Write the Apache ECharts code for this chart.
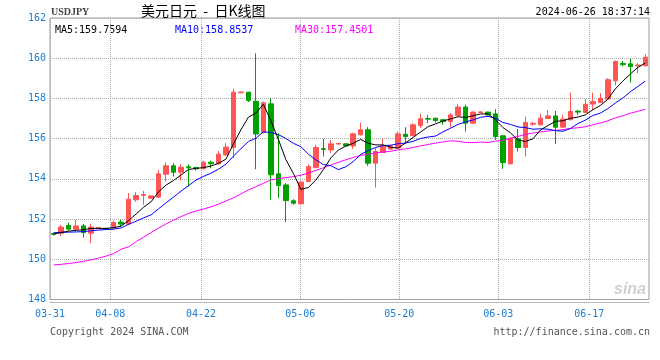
<!DOCTYPE html>
<html><head><meta charset="utf-8">
<script src="https://cdn.jsdelivr.net/npm/echarts@6/dist/echarts.min.js"></script>
<style>html,body{margin:0;padding:0;background:#fff}#c{width:660px;height:360px}</style>
</head><body><div id="c"></div>
<script>
const opens = [151.28,151.30,151.68,151.50,151.66,151.30,151.56,151.53,151.55,151.85,
151.75,152.96,153.18,153.04,153.09,154.23,154.65,154.33,154.60,154.56,
154.50,154.83,154.75,155.19,155.56,158.28,158.31,157.86,156.30,157.73,
154.25,153.70,152.91,152.76,153.87,154.56,155.50,155.44,155.73,155.74,
155.64,156.19,156.44,154.78,155.31,155.48,155.53,156.22,156.15,156.65,
157.00,157.02,156.94,156.85,157.15,157.57,156.77,157.30,157.32,157.23,
156.14,154.75,155.99,155.56,156.72,156.69,157.00,157.13,156.57,156.94,
157.37,157.30,157.72,157.80,157.97,158.88,159.74,159.72,159.62,159.62];
const closes = [151.24,151.60,151.50,151.66,151.33,151.60,151.58,151.51,151.83,151.75,
152.99,153.17,153.22,153.15,154.25,154.65,154.33,154.58,154.55,154.50,
154.83,154.75,155.23,155.58,158.31,158.32,157.90,156.23,157.78,154.20,
153.67,152.92,152.79,153.84,154.61,155.56,155.46,155.74,155.76,155.64,
156.24,156.44,154.78,155.36,155.61,155.64,156.24,156.10,156.69,156.99,
156.97,156.90,156.85,157.18,157.57,156.77,157.32,157.33,157.18,156.10,
154.81,156.02,155.56,156.80,156.76,157.02,157.13,156.57,156.97,157.35,
157.32,157.71,157.85,158.01,158.93,159.84,159.68,159.59,159.66,160.05];
const lows = [151.18,151.16,151.43,151.46,151.08,150.80,151.54,151.49,151.51,151.63,
151.72,152.86,152.71,153.02,153.05,153.87,154.11,153.92,153.62,154.41,
154.48,154.53,154.72,155.15,155.03,158.26,157.82,154.48,156.25,152.96,
153.04,151.85,152.71,152.74,153.85,154.54,155.11,155.28,155.71,155.62,
155.48,156.15,154.65,153.57,155.29,155.45,155.50,155.78,156.12,156.52,
156.77,156.80,156.69,156.57,157.12,156.35,156.74,157.29,157.16,155.94,
154.50,154.72,155.36,155.11,156.64,156.66,156.97,155.73,156.55,156.92,
157.18,157.28,157.43,157.78,157.95,158.64,159.59,158.78,159.26,159.60];
const highs = [151.32,151.71,151.83,151.96,151.76,151.76,151.60,151.55,151.93,151.96,
153.29,153.34,153.40,153.18,154.45,154.81,154.78,154.73,154.73,154.61,
154.90,154.91,155.39,155.78,158.48,158.34,158.33,160.24,157.85,158.01,
156.27,153.79,152.99,153.87,154.73,155.69,155.99,155.94,155.78,155.76,
156.30,156.80,156.57,155.53,155.99,155.70,156.35,156.57,156.77,157.23,
157.18,157.03,156.96,157.27,157.73,157.68,157.35,157.34,157.34,157.47,
156.16,156.05,156.47,157.10,156.85,157.23,157.43,157.38,157.18,158.29,
157.43,157.97,158.29,158.26,159.01,159.89,159.86,159.97,159.76,160.20];
const ma5 = [151.26,151.33,151.40,151.44,151.47,151.54,151.53,151.54,151.57,151.65,
151.93,152.25,152.59,152.86,153.36,153.69,153.92,154.19,154.47,154.52,
154.56,154.64,154.77,154.98,155.74,156.44,157.07,157.27,157.71,156.89,
155.96,154.96,154.27,153.48,153.57,153.94,154.45,155.04,155.43,155.63,
155.77,155.96,155.77,155.69,155.69,155.57,155.53,155.79,156.06,156.33,
156.60,156.73,156.88,156.98,157.09,157.05,157.14,157.23,157.23,156.94,
156.55,156.29,155.93,155.86,155.99,156.43,156.65,156.86,156.89,157.01,
157.07,157.18,157.44,157.65,157.96,158.47,158.86,159.21,159.54,159.76];
const ma10 = [151.32,151.34,151.35,151.36,151.38,151.42,151.45,151.48,151.50,151.56,
151.74,151.89,152.06,152.21,152.51,152.81,153.09,153.39,153.66,153.94,
154.12,154.28,154.48,154.73,155.13,155.50,155.86,156.02,156.34,156.31,
156.20,156.01,155.77,155.60,155.23,154.95,154.71,154.66,154.46,154.60,
154.86,155.21,155.41,155.56,155.66,155.67,155.75,155.78,155.87,156.01,
156.08,156.13,156.34,156.52,156.71,156.83,156.93,157.06,157.11,157.02,
156.80,156.71,156.58,156.55,156.47,156.49,156.47,156.40,156.37,156.50,
156.75,156.92,157.15,157.27,157.49,157.77,158.02,158.33,158.59,158.86];
const ma30 = [149.72,149.75,149.79,149.84,149.90,149.97,150.06,150.16,150.28,150.50,
150.62,150.88,151.10,151.33,151.55,151.76,151.95,152.12,152.28,152.40,
152.50,152.61,152.74,152.90,153.06,153.25,153.45,153.61,153.78,153.94,
154.02,154.06,154.11,154.18,154.29,154.42,154.55,154.69,154.82,154.95,
155.06,155.17,155.22,155.29,155.34,155.37,155.44,155.49,155.56,155.64,
155.71,155.78,155.84,155.89,155.87,155.81,155.80,155.83,155.81,155.88,
155.91,156.02,156.11,156.21,156.28,156.33,156.38,156.41,156.45,156.51,
156.54,156.59,156.69,156.78,156.89,157.03,157.14,157.26,157.36,157.46];
const tickLabels = ['03-31','04-08','04-22','05-06','05-20','06-03','06-17'];
const tickAt = [-0.5, 7.55, 19.67, 32.93, 46.15, 59.37, 71.53];
const maLegend = ['MA5:159.7594','MA10:158.8537','MA30:157.4501'];
const yMin = 148, yMax = 162, yStep = 2;

const UP = '#ff5555', DOWN = '#00a000';
const MONO = '"DejaVu Sans Mono", monospace';
const idx = closes.map((_, i) => String(i));
const kdata = opens.map((o, i) => [o, closes[i], lows[i], highs[i]]);

const chart = echarts.init(document.getElementById('c'), null, {renderer: 'canvas'});
chart.setOption({
  animation: false,
  backgroundColor: '#fff',
  grid: {left: 50, top: 18, width: 599, height: 281.5, show: true, borderColor: '#999', borderWidth: 1, backgroundColor: 'transparent'},
  xAxis: [
    {type: 'category', data: idx, boundaryGap: true, show: false},
    {type: 'value', min: -0.5, max: 79.5, position: 'bottom', offset: 3,
     axisLine: {show: true, lineStyle: {color: '#aaa', type: [1, 1]}},
     axisTick: {show: false, customValues: tickAt},
     splitLine: {show: true, lineStyle: {color: '#aaa', type: [1, 1]}},
     axisLabel: {customValues: tickAt, color: '#1a7ed0', fontFamily: MONO, fontSize: 10, margin: 7,
       formatter: v => { const k = tickAt.findIndex(t => Math.abs(t - v) < 1e-6); return k >= 0 ? tickLabels[k] : ''; }}}
  ],
  yAxis: {type: 'value', min: yMin, max: yMax, interval: yStep, scale: true,
    axisLine: {show: false}, axisTick: {show: false},
    splitLine: {show: true, lineStyle: {color: '#aaa', type: [1, 1]}},
    axisLabel: {color: '#1a7ed0', fontFamily: MONO, fontSize: 10, margin: 4, padding: [0, 0, 3, 0]}},
  series: [
    {type: 'candlestick', xAxisIndex: 0, data: kdata, barWidth: 5,
     itemStyle: {color: UP, color0: DOWN, borderColor: UP, borderColor0: DOWN, borderWidth: 1}, silent: true},
    {type: 'line', xAxisIndex: 0, data: ma30, showSymbol: false, silent: true, lineStyle: {color: '#ff00ff', width: 1}},
    {type: 'line', xAxisIndex: 0, data: ma10, showSymbol: false, silent: true, lineStyle: {color: '#0000ff', width: 1}},
    {type: 'line', xAxisIndex: 0, data: ma5, showSymbol: false, silent: true, lineStyle: {color: '#000000', width: 1}}
  ],
  graphic: [
    {type: 'text', left: 51, top: 7, style: {text: 'USDJPY', font: 'bold 10px "Liberation Serif", serif', fill: '#444'}},
    {type: 'text', left: 141, top: 4, style: {text: '美元日元  -  日K线图', font: '14px "Noto Sans CJK SC", sans-serif', fill: '#000'}},
    {type: 'text', right: 10, top: 7, style: {text: '2024-06-26 18:37:14', font: '10px ' + MONO, fill: '#000'}},
    {type: 'text', left: 55, top: 25, style: {text: maLegend[0], font: '10px ' + MONO, fill: '#000'}},
    {type: 'text', left: 175, top: 25, style: {text: maLegend[1], font: '10px ' + MONO, fill: '#0000ff'}},
    {type: 'text', left: 295, top: 25, style: {text: maLegend[2], font: '10px ' + MONO, fill: '#ff00ff'}},
    {type: 'text', left: 50, top: 327, style: {text: 'Copyright 2024 SINA.COM', font: '10px ' + MONO, fill: '#555'}},
    {type: 'text', right: 10, top: 327, style: {text: 'http://finance.sina.com.cn', font: '10px ' + MONO, fill: '#555'}},
    {type: 'text', right: 14, top: 282, style: {text: 'sina', font: 'italic bold 16px "Liberation Sans", sans-serif', fill: '#d0d0d0'}}
  ]
});
</script>
</body></html>
